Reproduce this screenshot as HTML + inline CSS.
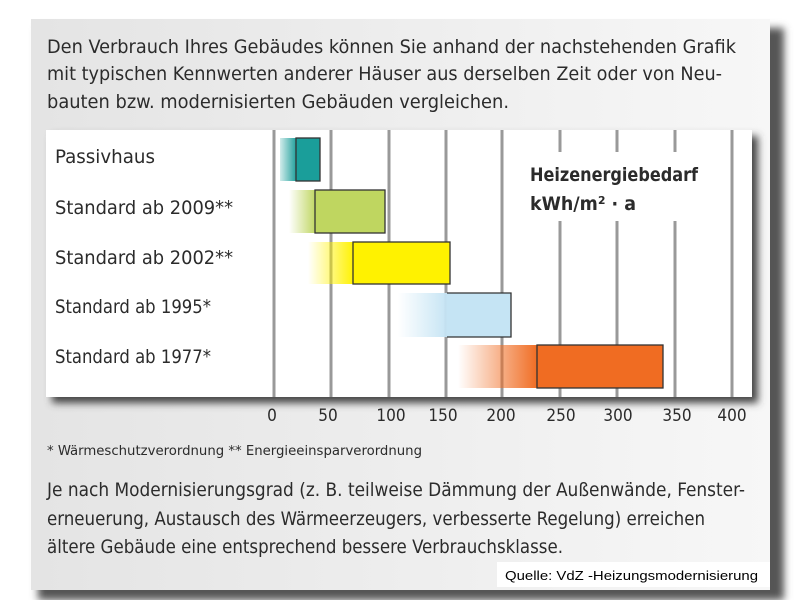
<!DOCTYPE html>
<html><head><meta charset="utf-8"><style>
html,body{margin:0;padding:0;background:#fff;width:800px;height:600px;overflow:hidden}
svg{display:block}
text{font-family:"DejaVu Sans Condensed","Liberation Sans Narrow","Liberation Sans",sans-serif;fill:#2b2b2b}
</style></head><body>
<svg width="800" height="600" viewBox="0 0 800 600" xmlns="http://www.w3.org/2000/svg">
<defs>
<linearGradient id="pg" x1="0" x2="1"><stop offset="0" stop-color="#e4e4e4"/><stop offset="1" stop-color="#f7f7f7"/></linearGradient>
<filter id="sh" x="-5%" y="-5%" width="115%" height="120%"><feGaussianBlur stdDeviation="4"/></filter>
<linearGradient id="g1" x1="0" x2="1"><stop offset="0" stop-color="#1a9e9a" stop-opacity="0.2"/><stop offset="1" stop-color="#1a9e9a"/></linearGradient>
<linearGradient id="g2" x1="0" x2="1"><stop offset="0" stop-color="#bfd660" stop-opacity="0"/><stop offset="1" stop-color="#bfd660"/></linearGradient>
<linearGradient id="g3" x1="0" x2="1"><stop offset="0" stop-color="#fff200" stop-opacity="0"/><stop offset="1" stop-color="#fff200"/></linearGradient>
<linearGradient id="g4" x1="0" x2="1"><stop offset="0" stop-color="#c5e4f4" stop-opacity="0"/><stop offset="1" stop-color="#c5e4f4"/></linearGradient>
<linearGradient id="g5" x1="0" x2="1"><stop offset="0" stop-color="#f06c22" stop-opacity="0"/><stop offset="1" stop-color="#f06c22"/></linearGradient>
</defs>
<rect x="38" y="28" width="746" height="572" fill="#555" filter="url(#sh)"/>
<rect x="31" y="19" width="739" height="571" fill="url(#pg)"/>
<text x="47" y="53" font-size="19" textLength="689" lengthAdjust="spacingAndGlyphs">Den Verbrauch Ihres Gebäudes können Sie anhand der nachstehenden Grafik</text>
<text x="47" y="80" font-size="19" textLength="675" lengthAdjust="spacingAndGlyphs">mit typischen Kennwerten anderer Häuser aus derselben Zeit oder von Neu-</text>
<text x="47" y="108" font-size="19" textLength="462" lengthAdjust="spacingAndGlyphs">bauten bzw. modernisierten Gebäuden vergleichen.</text>
<rect x="52" y="136" width="706" height="267" fill="#444" filter="url(#sh)"/>
<rect x="46" y="130" width="706" height="267" fill="#fff"/>
<g stroke="#999" stroke-width="3">
<line x1="274" y1="130" x2="274" y2="397"/><line x1="331" y1="130" x2="331" y2="397"/>
<line x1="389" y1="130" x2="389" y2="397"/><line x1="446" y1="130" x2="446" y2="397"/>
<line x1="502" y1="130" x2="502" y2="397"/>
<line x1="560" y1="130" x2="560" y2="152"/><line x1="560" y1="221" x2="560" y2="397"/>
<line x1="617" y1="130" x2="617" y2="152"/><line x1="617" y1="221" x2="617" y2="397"/>
<line x1="675" y1="130" x2="675" y2="152"/><line x1="675" y1="221" x2="675" y2="397"/>
<line x1="732" y1="130" x2="732" y2="397"/>
</g>
<text x="530" y="181" font-size="19" font-weight="bold" textLength="168" lengthAdjust="spacingAndGlyphs">Heizenergiebedarf</text>
<text x="530" y="210" font-size="19" font-weight="bold" textLength="106" lengthAdjust="spacingAndGlyphs">kWh/m² · a</text>
<g stroke="#333" stroke-width="1.3">
<rect x="280" y="138" width="17" height="43" fill="url(#g1)" stroke="none"/>
<rect x="296" y="138" width="24" height="43" fill="#1a9e9a"/>
<rect x="289" y="190" width="27" height="43" fill="url(#g2)" stroke="none"/>
<rect x="315" y="190" width="70" height="43" fill="#bfd660"/>
<rect x="308" y="242" width="46" height="42" fill="url(#g3)" stroke="none"/>
<rect x="353" y="242" width="97" height="42" fill="#fff200"/>
<rect x="398" y="293" width="50" height="44" fill="url(#g4)" stroke="none"/>
<rect x="447" y="293" width="64" height="44" fill="#c5e4f4" stroke="none"/>
<polyline points="447,293 511,293 511,337 447,337" fill="none"/>
<rect x="458" y="345" width="80" height="43" fill="url(#g5)" stroke="none"/>
<rect x="537" y="345" width="126" height="43" fill="#f06c22"/>
</g>
<g font-size="19">
<text x="55" y="163" textLength="100" lengthAdjust="spacingAndGlyphs">Passivhaus</text>
<text x="55" y="214" textLength="178" lengthAdjust="spacingAndGlyphs">Standard ab 2009**</text>
<text x="55" y="264" textLength="178" lengthAdjust="spacingAndGlyphs">Standard ab 2002**</text>
<text x="55" y="313" textLength="156" lengthAdjust="spacingAndGlyphs">Standard ab 1995*</text>
<text x="55" y="363" textLength="156" lengthAdjust="spacingAndGlyphs">Standard ab 1977*</text>
</g>
<g font-size="17" text-anchor="middle">
<text x="272" y="421">0</text><text x="328" y="421">50</text><text x="391" y="421">100</text>
<text x="443" y="421">150</text><text x="501" y="421">200</text><text x="561" y="421">250</text>
<text x="618" y="421">300</text><text x="677" y="421">350</text><text x="732" y="421">400</text>
</g>
<text x="47" y="455" font-size="13" textLength="375" lengthAdjust="spacingAndGlyphs">* Wärmeschutzverordnung   ** Energieeinsparverordnung</text>
<g font-size="19">
<text x="47" y="496" textLength="698" lengthAdjust="spacingAndGlyphs">Je nach Modernisierungsgrad (z. B. teilweise Dämmung der Außenwände, Fenster-</text>
<text x="47" y="525" textLength="658" lengthAdjust="spacingAndGlyphs">erneuerung, Austausch des Wärmeerzeugers, verbesserte Regelung) erreichen</text>
<text x="47" y="553" textLength="516" lengthAdjust="spacingAndGlyphs">ältere Gebäude eine entsprechend bessere Verbrauchsklasse.</text>
</g>
<rect x="497" y="562" width="273" height="25" fill="#fff"/>
<text x="505" y="580" font-size="13" style="font-family:'Liberation Sans',sans-serif;fill:#000" textLength="253" lengthAdjust="spacingAndGlyphs">Quelle: VdZ -Heizungsmodernisierung</text>
</svg>
</body></html>
